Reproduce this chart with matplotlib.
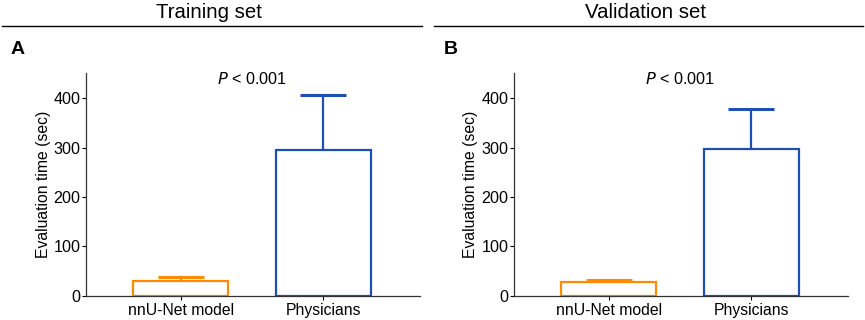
import matplotlib
matplotlib.use("Agg")
import matplotlib.pyplot as plt

plt.rcParams['font.family'] = ['Liberation Sans', 'DejaVu Sans']

categories = ["nnU-Net model", "Physicians"]
panel_titles = ["Training set", "Validation set"]
panel_letters = ["A", "B"]
train_means = [30, 296]
train_upper = [38, 407]
valid_means = [27, 298]
valid_upper = [32, 379]
yticks = [0, 100, 200, 300, 400]
ylabel = "Evaluation time (sec)"

colors = ["#FF8C00", "#1E4FB2"]

fig = plt.figure(figsize=(8.65, 3.2), dpi=100)

panels = [
    (0.0994, train_means, train_upper, 0.0, 0.488),
    (0.594, valid_means, valid_upper, 0.4995, 0.998),
]

for i, (left, means, upper, lx0, lx1) in enumerate(panels):
    ax = fig.add_axes([left, 0.076, 0.386, 0.697])
    xs = list(range(len(categories)))
    for x, m, u, c in zip(xs, means, upper, colors):
        ax.bar(x, m, width=0.667, facecolor="white", edgecolor=c, linewidth=1.6, zorder=2)
        eb = ax.errorbar(x, m, yerr=[[0], [u - m]], fmt="none", ecolor=c,
                         elinewidth=1.6, capsize=16.8, capthick=2.2, zorder=3)
        caplines = eb[1]
        if len(caplines) > 1:
            caplines[0].set_visible(False)
    ax.set_xlim(-0.667, 1.677)
    ax.set_ylim(0, 452)
    ax.set_xticks(xs)
    ax.set_xticklabels(categories, fontsize=11.3)
    ax.set_yticks(yticks)
    ax.tick_params(axis="y", labelsize=11.6, length=3, width=0.8, pad=1, direction="out")
    ax.tick_params(axis="x", length=3, width=0.8, pad=2, direction="out")
    ax.set_ylabel(ylabel, fontsize=11.3, labelpad=2)
    for s in ["top", "right"]:
        ax.spines[s].set_visible(False)
    for s in ["left", "bottom"]:
        ax.spines[s].set_linewidth(0.9)
        ax.spines[s].set_color("#333333")
    ax.text(0.5, 440, "$\\it{P}$ < 0.001", ha="center", va="center", fontsize=11.7)

    fig.text((lx0 + lx1) / 2 - 0.002, 0.962, panel_titles[i], ha="center", va="center", fontsize=14.7)
    fig.add_artist(plt.Line2D([lx0 + 0.002, lx1], [0.919, 0.919], color="black", linewidth=1.0,
                              transform=fig.transFigure))
    fig.text(lx0 + 0.012 if i == 0 else lx0 + 0.013, 0.845, panel_letters[i], ha="left", va="center",
             fontsize=14, fontweight="bold")

fig.savefig("out.png", dpi=100)
